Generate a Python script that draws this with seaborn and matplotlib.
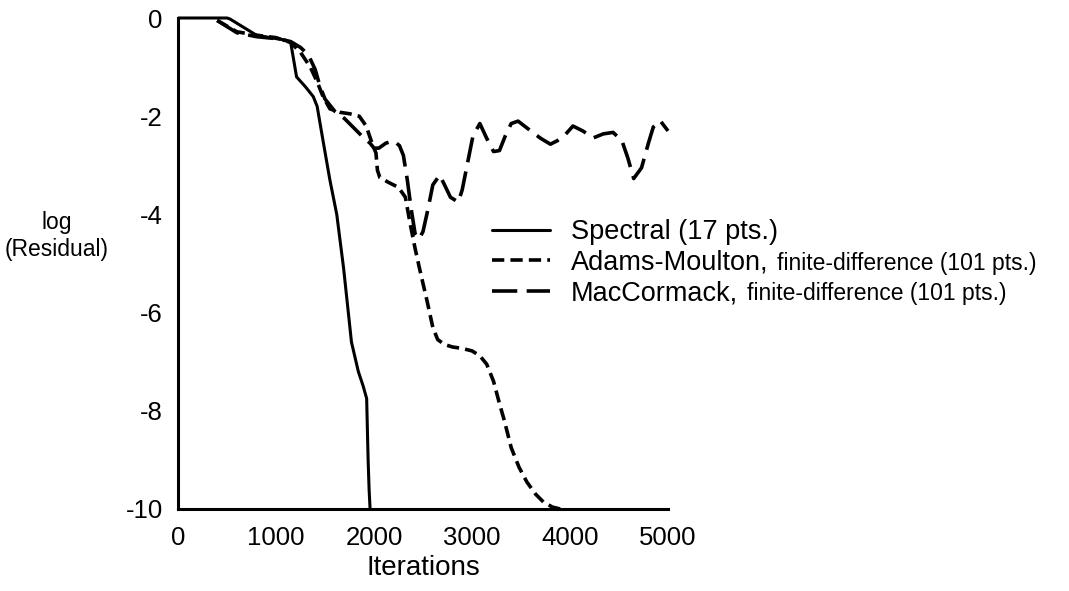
import matplotlib
matplotlib.use("Agg")
import matplotlib.pyplot as plt
import numpy as np
import pandas as pd
import seaborn as sns

# ---------------- data ----------------
spectral_x = [0, 500, 530, 800, 1000, 1100, 1150, 1210, 1300, 1380, 1420, 1480,
              1550, 1620, 1690, 1770, 1840, 1890, 1925, 1940, 1950, 1960]
spectral_y = [0, 0, -0.02, -0.35, -0.42, -0.45, -0.5, -1.2, -1.4, -1.6, -1.8, -2.5,
              -3.3, -4.0, -5.1, -6.6, -7.2, -7.5, -7.75, -9.0, -9.6, -10]

adams_x = [400, 600, 800, 1000, 1150, 1250, 1350, 1420, 1480, 1550, 1650, 1750,
           1850, 1920, 1980, 2020, 2035, 2060, 2150, 2250, 2320, 2370, 2420, 2470,
           2540, 2600, 2650, 2720, 2800, 2900, 3000, 3080, 3150, 3220, 3280, 3330,
           3400, 3480, 3560, 3650, 3730, 3820, 3900]
adams_y = [-0.05, -0.28, -0.35, -0.4, -0.5, -0.7, -1.0, -1.3, -1.6, -1.85, -1.92, -1.95,
           -2.0, -2.2, -2.55, -2.75, -3.1, -3.25, -3.35, -3.45, -3.65, -4.2, -4.7, -5.15,
           -5.75, -6.3, -6.55, -6.65, -6.7, -6.73, -6.78, -6.88, -7.05, -7.4, -7.85, -8.2,
           -8.75, -9.15, -9.45, -9.7, -9.86, -9.96, -10]

mac_x = [400, 600, 800, 1000, 1150, 1250, 1330, 1400, 1450, 1500, 1600, 1700, 1800,
         1900, 1960, 2000, 2050, 2120, 2200, 2260, 2300, 2340, 2380, 2420, 2460, 2500,
         2550, 2600, 2670, 2720, 2780, 2860, 2900, 2950, 3010, 3080, 3150, 3220, 3280,
         3340, 3400, 3470, 3600, 3700, 3800, 3870, 3950, 4030, 4130, 4240, 4340, 4440,
         4530, 4590, 4650, 4730, 4800, 4850, 4920, 5000]
mac_y = [-0.05, -0.3, -0.38, -0.42, -0.48, -0.6, -0.75, -1.05, -1.4, -1.65, -1.9, -2.05,
         -2.25, -2.45, -2.55, -2.65, -2.65, -2.55, -2.5, -2.6, -2.8, -3.3, -3.9, -4.4,
         -4.5, -4.35, -3.9, -3.4, -3.2, -3.4, -3.65, -3.75, -3.5, -3.0, -2.4, -2.15,
         -2.45, -2.72, -2.7, -2.4, -2.15, -2.1, -2.3, -2.45, -2.57, -2.5, -2.38, -2.2,
         -2.3, -2.44, -2.36, -2.33, -2.5, -2.85, -3.27, -3.05, -2.55, -2.22, -2.09, -2.3]

methods = ["Spectral (17 pts.)", "Adams-Moulton,", "MacCormack,"]
method_suffix = ["", "finite-difference (101 pts.)", "finite-difference (101 pts.)"]
x_ticks = [0, 1000, 2000, 3000, 4000, 5000]
y_ticks = [0, -2, -4, -6, -8, -10]
x_label = "Iterations"
y_label = "log\n(Residual)"

# ---------------- figure ----------------
sns.set_theme(style="white")
plt.rcParams["font.family"] = ["Liberation Sans", "DejaVu Sans"]
plt.rcParams["text.color"] = "black"
plt.rcParams["axes.labelcolor"] = "black"

df = pd.concat([
    pd.DataFrame({"x": spectral_x, "y": spectral_y, "method": methods[0]}),
    pd.DataFrame({"x": adams_x, "y": adams_y, "method": methods[1]}),
    pd.DataFrame({"x": mac_x, "y": mac_y, "method": methods[2]}),
], ignore_index=True)

fig = plt.figure(figsize=(10.69, 5.91), dpi=100)
ax = fig.add_axes([178 / 1069, 1 - 509 / 591, 490 / 1069, 491 / 591])

sns.lineplot(data=df, x="x", y="y", style="method", style_order=methods,
             dashes={methods[0]: "", methods[1]: (3.4, 1.7), methods[2]: (7.0, 2.6)},
             color="black", sort=False, estimator=None, ax=ax, legend=True)

widths = [2.2, 2.6, 2.6]
for line, lw in zip(ax.lines[:3], widths):
    line.set_linewidth(lw)
    line.set_clip_on(False)
    line.set_solid_capstyle("butt")

ax.set_xlim(0, 5000)
ax.set_ylim(-10, 0)
ax.set_xticks(x_ticks)
ax.set_yticks(y_ticks)
ax.set_yticklabels([str(v) for v in y_ticks])
for s in ["top", "right"]:
    ax.spines[s].set_visible(False)
for s in ["left", "bottom"]:
    ax.spines[s].set_linewidth(2.2)
    ax.spines[s].set_color("black")
ax.tick_params(axis="both", direction="in", length=13, width=1.8, colors="black",
               labelsize=18.5, labelcolor="black")
ax.tick_params(axis="x", pad=12)
ax.tick_params(axis="y", pad=11)
ax.set_xlabel(x_label, fontsize=20, labelpad=4, color="black")
ax.set_ylabel("")
fig.text(57 / 1069, 1 - 236 / 591, y_label, ha="center", va="center",
         fontsize=16.5, linespacing=1.2, color="black")

leg = ax.legend(loc="upper left", bbox_to_anchor=(492 / 1069, 1 - 219 / 591),
                bbox_transform=fig.transFigure, frameon=False, fontsize=19.5,
                handlelength=2.15, handletextpad=0.75, labelspacing=0.17,
                borderpad=0, borderaxespad=0)
for h, lw in zip(leg.get_lines(), widths):
    h.set_linewidth(lw)
for t in leg.get_texts():
    t.set_color("black")

fig.canvas.draw()
renderer = fig.canvas.get_renderer()
for t, suf in zip(leg.get_texts(), method_suffix):
    if not suf:
        continue
    bb = t.get_window_extent(renderer)
    _, _, d = renderer.get_text_width_height_descent("lp", t.get_fontproperties(), ismath=False)
    x0 = (bb.x1 + 9) / fig.bbox.width
    yb = (bb.y0 + d) / fig.bbox.height
    fig.text(x0, yb, suf, ha="left", va="baseline", fontsize=16.5,
             family=["Liberation Sans", "DejaVu Sans"], color="black")

fig.savefig("out.png", dpi=100, facecolor="white")
